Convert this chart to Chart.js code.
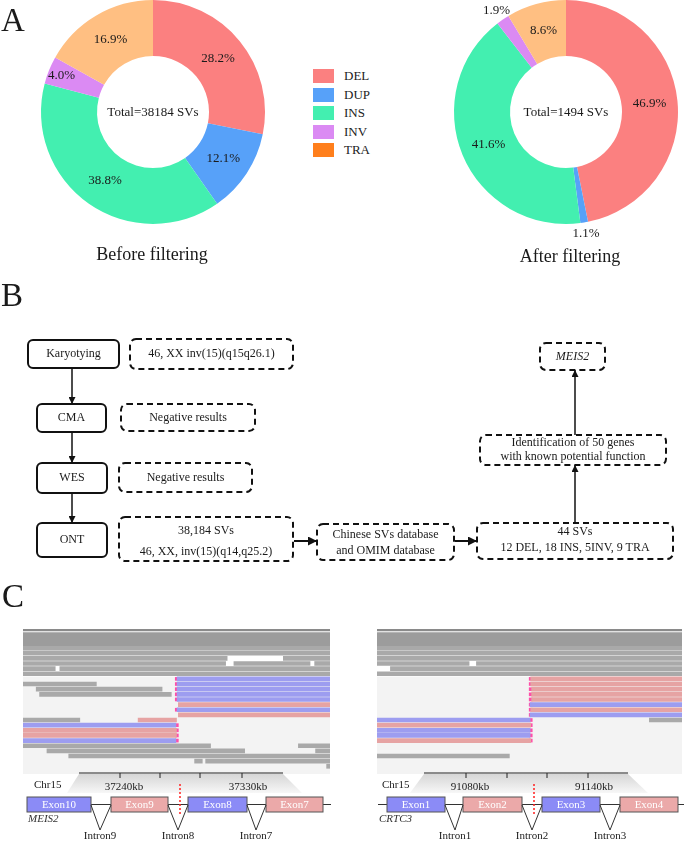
<!DOCTYPE html>
<html>
<head>
<meta charset="utf-8">
<script src="https://cdn.jsdelivr.net/npm/chart.js@4.4.1/dist/chart.umd.min.js"></script>
<style>
  html, body { margin:0; padding:0; background:#fff; }
  #page { position:relative; width:685px; height:841px; overflow:hidden; font-family:"Liberation Serif", serif; }
  canvas, svg, .abs { position:absolute; }
  .leg { position:absolute; left:313px; font-size:13px; color:#222; }
  .leg span { position:absolute; width:21px; height:14px; left:0; top:0; }
  .leg b { position:absolute; left:31px; top:-1px; font-weight:normal; white-space:nowrap; }
</style>
</head>
<body>
<div id="page">
  <canvas id="donutBefore" width="300" height="250" style="left:3px;top:0px"></canvas>
  <canvas id="donutAfter" width="269" height="250" style="left:416px;top:0px"></canvas>
  <div id="legend"></div>
  <canvas id="readsLeft" width="307" height="146" style="left:23px;top:628px"></canvas>
  <canvas id="readsRight" width="305" height="146" style="left:377px;top:628px"></canvas>
  <svg id="overlay" width="685" height="841" style="left:0;top:0"></svg>
</div>
<script>
// --- panel A data ---
const categories = ['DEL', 'DUP', 'INS', 'INV', 'TRA']
const beforeValues = [28.2, 12.1, 38.8, 4.0, 16.9]
const afterValues = [46.9, 1.1, 41.6, 1.9, 8.6]
const beforeTotal = 38184
const afterTotal = 1494
const sliceColors = ['#fb8080', '#57a1f9', '#43efb0', '#db8af3', '#ffbf82']
const legendColors = ['#fb8080', '#57a1f9', '#43efb0', '#db8af3', '#ff7f1c']

// --- panel C reads: [row, start%, end%] ---
const leftGray = [[0,0,100],[1,0,100],[2,0,66.5],[2,84.8,100],[3,0,66],[3,68.7,93.5],[3,95,100],
  [4,0,10.5],[4,12,100],[5,0,100],[7,0,23.9],[8,4.3,45.3],[9,5.4,48.3],[14,0,18.5],
  [19,0,61.1],[19,89.7,100],[20,7.8,72.2],[20,95.3,100],[21,14.9,100],[22,55.9,58.4],[22,59.5,100],[23,98.9,100]]
const leftBlue = [[6,50.2,100],[7,50.2,100],[8,50.2,100],[9,50.2,100],[10,50.2,100],[12,50.2,100],[15,0,49.8],[18,0,49.8]]
const leftRed = [[11,50.6,100],[13,50.6,100],[14,37.5,50],[16,0,50],[17,0,50]]
const leftClip = [6,7,8,9,10,12,15,16,17,18]

const rightGray = [[0,0,100],[1,0,100],[2,0,100],[3,0,30.2],[3,32.6,100],[4,4.4,100],[5,0,100],[14,89.3,100],[21,0,43.4]]
const rightBlue = [[11,50.2,100],[13,50.2,100],[14,0,50.2],[16,0,50.2],[17,0,50.2]]
const rightRed = [[6,50.4,100],[7,50.4,100],[8,50.7,100],[9,50.7,100],[10,50.7,100],[12,50.4,100],[15,0,50.4],[18,0,50.4]]
const rightClip = [6,7,8,9,10,11,12,13,14,15,16,17,18]

Chart.defaults.font.family = '"Liberation Serif", serif'

const sliceLabels = {
  id: 'sliceLabels',
  afterDatasetsDraw(chart, args, opts) {
    const ctx = chart.ctx
    const meta = chart.getDatasetMeta(0)
    const vals = chart.data.datasets[0].data
    ctx.save()
    ctx.font = '13px "Liberation Serif"'
    ctx.fillStyle = '#1a1a1a'
    ctx.textAlign = 'center'
    ctx.textBaseline = 'middle'
    meta.data.forEach((arc, i) => {
      const p = arc.getProps(['x','y','startAngle','endAngle','innerRadius','outerRadius'], true)
      const mid = (p.startAngle + p.endAngle) / 2
      let r = (p.innerRadius + p.outerRadius) / 2
      if (vals[i] < 3) r = p.outerRadius + 11
      else if (vals[i] < 5) r = p.innerRadius + (p.outerRadius - p.innerRadius) * 0.76
      ctx.fillText(vals[i].toFixed(1) + '%', p.x + Math.cos(mid) * r, p.y + Math.sin(mid) * r)
    })
    const c = meta.data[0]
    ctx.fillText('Total=' + opts.total + ' SVs', c.x, c.y + 1)
    ctx.restore()
  }
}

const makeDonut = (id, values, total, padding) => new Chart(document.getElementById(id), {
  type: 'doughnut',
  data: { labels: categories, datasets: [{ data: values, backgroundColor: sliceColors, borderWidth: 0 }] },
  options: {
    responsive: false, animation: false, cutout: '50%',
    layout: { padding: padding },
    plugins: { legend: { display: false }, tooltip: { enabled: false }, sliceLabels: { total: total } }
  },
  plugins: [sliceLabels]
})
makeDonut('donutBefore', beforeValues, beforeTotal, { left: 38, right: 38, top: 0, bottom: 26 })
makeDonut('donutAfter', afterValues, afterTotal, { left: 38, right: 7, top: 0, bottom: 26 })

// legend
const legendEl = document.getElementById('legend')
const legendTops = [69, 88, 106, 125, 143]
categories.forEach((c, i) => {
  const d = document.createElement('div')
  d.className = 'leg'
  d.style.top = legendTops[i] + 'px'
  d.innerHTML = '<span style="background:' + legendColors[i] + '"></span><b>' + c + '</b>'
  legendEl.appendChild(d)
})

// reads track
const lightBg = {
  id: 'lightBg',
  beforeDatasetsDraw(chart) {
    const { ctx, chartArea, scales } = chart
    const y0 = scales.y.getPixelForValue(5.55)
    ctx.save()
    ctx.fillStyle = '#f3f3f3'
    ctx.fillRect(chartArea.left, y0, chartArea.width, chartArea.bottom - y0)
    ctx.restore()
  }
}
const toBars = list => list.map(r => ({ x: [r[1], r[2]], y: r[0] }))
const makeReads = (id, gray, blue, red, clip, breakAt) => new Chart(document.getElementById(id), {
  type: 'bar',
  data: { datasets: [
    { data: [{ x: [0, 100], y: -3.5 }], backgroundColor: '#8a8a8a', barThickness: 1.5 },
    { data: [{ x: [0, 100], y: -1.75 }], backgroundColor: '#9c9c9c', barThickness: 13 },
    { data: toBars(gray), backgroundColor: '#a9a9a9', barThickness: 4 },
    { data: toBars(blue), backgroundColor: '#9d9df0', barThickness: 4 },
    { data: toBars(red), backgroundColor: '#e6a3a3', barThickness: 4 },
    { data: clip.map(r => ({ x: [breakAt - 0.5, breakAt + 0.5], y: r })), backgroundColor: '#ff4fa8', barThickness: 3 }
  ].map(d => Object.assign(d, { grouped: false, borderWidth: 0 })) },
  options: {
    indexAxis: 'y', responsive: false, animation: false,
    layout: { padding: 0 },
    scales: {
      x: { type: 'linear', min: 0, max: 100, display: false },
      y: { type: 'linear', min: -3.9, max: 24.5, reverse: true, offset: false, display: false }
    },
    plugins: { legend: { display: false }, tooltip: { enabled: false } }
  },
  plugins: [lightBg]
})
makeReads('readsLeft', leftGray, leftBlue, leftRed, leftClip, 50.1)
makeReads('readsRight', rightGray, rightBlue, rightRed, rightClip, 50.4)

// --- static figure parts (panel letters, flowchart, gene models) ---
const NS = 'http://www.w3.org/2000/svg'
const svg = document.getElementById('overlay')
const el = (tag, attrs, text) => {
  const e = document.createElementNS(NS, tag)
  for (const k in attrs) e.setAttribute(k, attrs[k])
  if (text !== undefined) e.textContent = text
  svg.appendChild(e)
  return e
}
const txt = (x, y, s, size, extra) => el('text', Object.assign({ x: x, y: y, 'font-size': size, 'text-anchor': 'middle', 'dominant-baseline': 'middle', fill: '#1a1a1a', 'font-family': '"Liberation Serif", serif' }, extra || {}), s)

const defs = el('defs', {})
defs.innerHTML = '<marker id="ah" viewBox="0 0 10 10" refX="10" refY="5" markerWidth="7" markerHeight="7" markerUnits="userSpaceOnUse" orient="auto"><path d="M0,0 L10,5 L0,10 z" fill="#111"/></marker>' +
  '<marker id="ah2" viewBox="0 0 10 10" refX="10" refY="5" markerWidth="10" markerHeight="9" markerUnits="userSpaceOnUse" orient="auto"><path d="M0,0 L10,5 L0,10 z" fill="#111"/></marker>' +
  '<linearGradient id="zoomg" x1="0" y1="0" x2="0" y2="1"><stop offset="0" stop-color="#d6d6d6"/><stop offset="1" stop-color="#f7f7f7"/></linearGradient>'

txt(1, 31, 'A', 33, { 'text-anchor': 'start', 'dominant-baseline': 'auto' })
txt(1, 306, 'B', 33, { 'text-anchor': 'start', 'dominant-baseline': 'auto' })
txt(2, 607, 'C', 33, { 'text-anchor': 'start', 'dominant-baseline': 'auto' })
txt(152, 256, 'Before filtering', 18)
txt(570, 258, 'After filtering', 18)

// flowchart
const solid = (x, y, w, h) => el('rect', { x: x, y: y, width: w, height: h, rx: 5, fill: 'none', stroke: '#111', 'stroke-width': 2 })
const dashed = (x, y, w, h) => el('rect', { x: x, y: y, width: w, height: h, rx: 6, fill: 'none', stroke: '#111', 'stroke-width': 2, 'stroke-dasharray': '6 4' })
const arrow = (x1, y1, x2, y2, w, m) => el('line', { x1: x1, y1: y1, x2: x2, y2: y2, stroke: '#111', 'stroke-width': w, 'marker-end': 'url(#' + m + ')' })

solid(28, 340, 91, 28); txt(73.5, 354.5, 'Karyotying', 12)
dashed(130, 339, 163, 30); txt(211.5, 354.5, '46, XX inv(15)(q15q26.1)', 12)
solid(37, 404, 69, 28); txt(71.5, 418.5, 'CMA', 12)
dashed(121, 404, 134, 27); txt(188, 418, 'Negative results', 12)
solid(37, 463, 70, 30); txt(72, 478.5, 'WES', 12)
dashed(119, 463, 133, 29); txt(185.5, 478, 'Negative results', 12)
solid(37, 523, 70, 34); txt(72, 540.5, 'ONT', 12)
dashed(119, 517, 174, 44); txt(206, 531, '38,184 SVs', 12); txt(206, 552, '46, XX, inv(15)(q14,q25.2)', 12)
dashed(317, 524, 137, 36); txt(385.5, 535, 'Chinese SVs database', 12); txt(385.5, 551, 'and OMIM database', 12)
dashed(477, 523, 196, 36); txt(575, 532.5, '44 SVs', 12); txt(575, 548.5, '12 DEL, 18 INS, 5INV, 9 TRA', 12)
dashed(480, 435, 186, 30); txt(573, 443.5, 'Identification of 50 genes', 12); txt(573, 457, 'with known potential function', 12)
dashed(540, 343, 65, 27); txt(572.5, 357, 'MEIS2', 12, { 'font-style': 'italic' })

arrow(72, 368, 72, 404, 1.5, 'ah')
arrow(72, 432, 72, 463, 1.5, 'ah')
arrow(72, 493, 72, 523, 1.5, 'ah')
arrow(294, 541, 317, 541, 2, 'ah2')
arrow(455, 541, 477, 541, 2, 'ah2')
arrow(575, 523, 575, 465, 1.5, 'ah')
arrow(575, 435, 575, 370, 1.5, 'ah')

// gene models
const geneModel = (g) => {
  el('polygon', { points: g.rulerL + ',774 ' + g.rulerR + ',774 ' + g.zoomR + ',793 ' + g.zoomL + ',793', fill: 'url(#zoomg)' })
  el('line', { x1: g.rulerL, y1: 773, x2: g.rulerR, y2: 773, stroke: '#222', 'stroke-width': 1 })
  g.ticks.forEach(t => el('line', { x1: t, y1: 773, x2: t, y2: 778, stroke: '#222', 'stroke-width': 1 }))
  txt(g.chrX, 785, 'Chr15', 11, { 'text-anchor': 'start' })
  txt(g.ticks[0] + 4, 787, g.tickLabels[0], 11)
  txt(g.ticks[3] + 6, 787, g.tickLabels[1], 11)
  el('line', { x1: g.lineL, y1: 804.5, x2: g.lineR, y2: 804.5, stroke: '#333', 'stroke-width': 1 })
  g.exons.forEach((e, i) => {
    el('rect', { x: e[0], y: 797, width: e[1] - e[0], height: 15, fill: i % 2 ? '#eba9a9' : '#8b8bf6', stroke: '#555', 'stroke-width': 1 })
    txt((e[0] + e[1]) / 2, 805, g.exonNames[i], 11, { fill: '#fff' })
  })
  g.introns.forEach((a, i) => {
    const l = g.exons[i][1], r = g.exons[i + 1][0]
    el('polyline', { points: l + ',805 ' + a + ',830 ' + r + ',805', fill: 'none', stroke: '#333', 'stroke-width': 1 })
    txt(a, 836, g.intronNames[i], 11)
  })
  el('line', { x1: g.brk, y1: 784, x2: g.brk, y2: 815, stroke: '#ff2020', 'stroke-width': 1.5, 'stroke-dasharray': '2 2' })
  txt(g.lineL + 1, 819, g.gene, 11, { 'text-anchor': 'start', 'font-style': 'italic', fill: '#333' })
}
geneModel({ rulerL: 79, rulerR: 283, zoomL: 67, zoomR: 302, ticks: [120, 160, 200, 242], tickLabels: ['37240kb', '37330kb'],
  chrX: 34, lineL: 27, lineR: 331, exons: [[27, 91], [111, 168], [188, 247], [266, 323]],
  exonNames: ['Exon10', 'Exon9', 'Exon8', 'Exon7'], introns: [100, 178, 256], intronNames: ['Intron9', 'Intron8', 'Intron7'],
  brk: 180, gene: 'MEIS2' })
geneModel({ rulerL: 424, rulerR: 628, zoomL: 410, zoomR: 648, ticks: [466, 507, 547, 588], tickLabels: ['91080kb', '91140kb'],
  chrX: 382, lineL: 378, lineR: 684, exons: [[387, 445], [463, 522], [542, 600], [620, 678]],
  exonNames: ['Exon1', 'Exon2', 'Exon3', 'Exon4'], introns: [455, 532, 610], intronNames: ['Intron1', 'Intron2', 'Intron3'],
  brk: 534, gene: 'CRTC3' })
</script>
</body>
</html>
